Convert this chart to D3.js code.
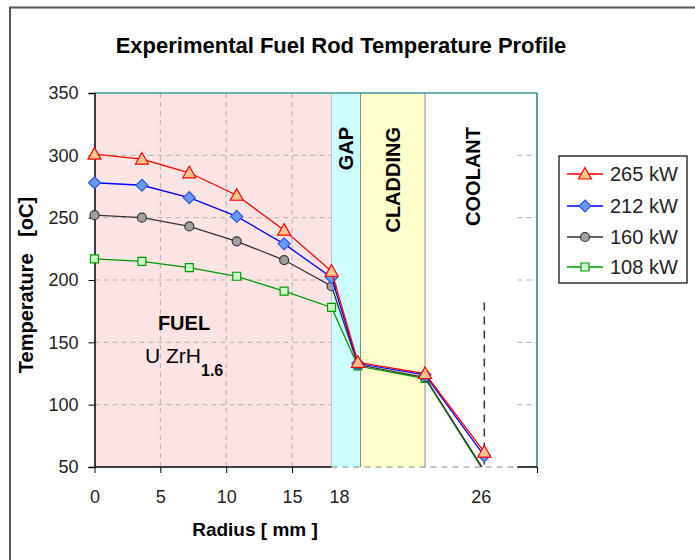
<!DOCTYPE html>
<html><head><meta charset="utf-8">
<script src="https://cdn.jsdelivr.net/npm/d3@7"></script>
<style>
body{margin:0;background:#fff;}
svg{font-family:Arial,"Liberation Sans",sans-serif;}
</style></head>
<body>
<svg id="c" width="695" height="560"></svg>
<script>
// ---- data ----
const radius = [0, 3.6, 7.2, 10.8, 14.4, 18, 20, 25.1, 29.6];
const s265 = [301, 297, 286, 268, 240, 207, 134, 125, 62];
const s212 = [278, 276, 266, 251, 229, 202, 133, 124, 59];
const s160 = [252, 250, 243, 231, 216, 195, 132, 122, 47];
const s108 = [217, 215, 210, 203, 191, 178, 131, 121, 46];
const seriesNames = ["265 kW", "212 kW", "160 kW", "108 kW"];
const xTicks = [0, 5, 10, 15];
const yTicks = [50, 100, 150, 200, 250, 300, 350];
const extraXLabels = [{v: 18, t: "18"}, {v: 29.6, t: "26"}];
const regions = [
  {name: "FUEL", x0: 0, x1: 18},
  {name: "GAP", x0: 18, x1: 20.2},
  {name: "CLADDING", x0: 20.2, x1: 25.1},
  {name: "COOLANT", x0: 25.1, x1: 32.1}
];
const coolantMarkY = 182;

const series = [
  {name: seriesNames[0], vals: s265, color: "#ff0000", fill: "#ffc58a", stroke: "#ff0000", sym: "tri"},
  {name: seriesNames[1], vals: s212, color: "#0000ff", fill: "#6699ff", stroke: "#3355dd", sym: "dia"},
  {name: seriesNames[2], vals: s160, color: "#333333", fill: "#a0a0a0", stroke: "#333333", sym: "cir"},
  {name: seriesNames[3], vals: s108, color: "#009900", fill: "#ccffcc", stroke: "#009900", sym: "sq"}
];

const svg = d3.select("#c");
const L = 94.5, R = 537, T = 93, B = 467;
const x = d3.scaleLinear().domain([0, 33.6]).range([L, R]);
const y = d3.scaleLinear().domain([50, 350]).range([B, T]);

// outer frame
svg.append("path").attr("d", `M10,600 L10,7.5 L700,7.5`).attr("fill","none").attr("stroke","#555").attr("stroke-width",2);

// title
svg.append("text").attr("x", 341).attr("y", 53).attr("text-anchor","middle")
  .attr("font-size", 22).attr("font-weight","bold").text("Experimental Fuel Rod Temperature Profile");

// fuel region
svg.append("rect").attr("x", x(regions[0].x0)).attr("y", T).attr("width", x(regions[0].x1)-x(regions[0].x0)).attr("height", B-T)
  .attr("fill","#fde4e4");

// gridlines
const grid = svg.append("g").attr("stroke","#b0b0b0").attr("stroke-dasharray","5,4").attr("stroke-width",1);
yTicks.filter(v=>v>50 && v<350).forEach(v=>{
  grid.append("line").attr("x1",L).attr("x2",R).attr("y1",y(v)).attr("y2",y(v));
});
xTicks.filter(v=>v>0).forEach(v=>{
  grid.append("line").attr("x1",x(v)).attr("x2",x(v)).attr("y1",T).attr("y2",B);
});

// fuel right border
svg.append("line").attr("x1", x(18)).attr("x2", x(18)).attr("y1",T).attr("y2",B).attr("stroke","#999");

// gap, cladding, coolant boxes
const boxFill = ["#ccffff", "#ffffcc", "#ffffff"];
regions.slice(1).forEach((r,i)=>{
  svg.append("rect").attr("x", x(r.x0)).attr("y", T).attr("width", x(r.x1)-x(r.x0)).attr("height", B-T)
    .attr("fill", boxFill[i]);
});
svg.append("line").attr("x1", x(20.2)).attr("x2", x(20.2)).attr("y1",T).attr("y2",B).attr("stroke","#888");
svg.append("line").attr("x1", x(25.1)).attr("x2", x(25.1)).attr("y1",T).attr("y2",B).attr("stroke","#888");

// axes lines
svg.append("line").attr("x1",L).attr("x2",R).attr("y1",T).attr("y2",T).attr("stroke","#3a9a9a").attr("stroke-width",1.5);
svg.append("line").attr("x1",R).attr("x2",R).attr("y1",T).attr("y2",B).attr("stroke","#2a7f7f").attr("stroke-width",1.5);
svg.append("line").attr("x1",L).attr("x2",x(18)).attr("y1",B).attr("y2",B).attr("stroke","#000").attr("stroke-width",1.5);
svg.append("line").attr("x1",x(32.1)).attr("x2",R).attr("y1",B).attr("y2",B).attr("stroke","#000").attr("stroke-width",1.5);
svg.append("line").attr("x1",x(18)).attr("x2",x(32.1)).attr("y1",B).attr("y2",B).attr("stroke","#888").attr("stroke-dasharray","6,5");

// y axis
const yAxis = d3.axisLeft(y).tickValues(yTicks).tickSize(6).tickPadding(10).tickFormat(d3.format("d"));
const gy = svg.append("g").attr("transform",`translate(${L},0)`).call(yAxis);
gy.select(".domain").attr("stroke","#000").attr("stroke-width",1.5);
gy.selectAll("text").attr("font-size",18).attr("fill","#222").attr("font-family","Arial, 'Liberation Sans', sans-serif");

// x axis
const xAxis = d3.axisBottom(x).tickValues(xTicks.concat([33.6])).tickSize(6).tickPadding(17)
  .tickFormat(d => xTicks.includes(d) ? d : "");
const gx = svg.append("g").attr("transform",`translate(0,${B})`).call(xAxis);
gx.select(".domain").remove();
gx.selectAll("text").attr("font-size",18).attr("fill","#222").attr("font-family","Arial, 'Liberation Sans', sans-serif");
extraXLabels.forEach((d,i)=>{
  svg.append("text").attr("x", x(d.v) + (i===0 ? 8 : -3)).attr("y", 503).attr("text-anchor","middle")
    .attr("font-size",18).attr("fill","#222").text(d.t);
});

// axis titles
svg.append("text").attr("x", 255).attr("y", 536).attr("text-anchor","middle").attr("font-size",19).attr("font-weight","bold").text("Radius [ mm ]");
svg.append("text").attr("transform","translate(33,285) rotate(-90)").attr("text-anchor","middle").attr("font-size",20).attr("font-weight","bold")
  .style("white-space","pre").text("Temperature   [oC]");

// region labels
svg.append("text").attr("x",184).attr("y",330).attr("text-anchor","middle").attr("font-size",20).attr("font-weight","bold").text("FUEL");
const ul = svg.append("text").attr("x",145).attr("y",363).attr("font-size",21);
ul.append("tspan").text("U ZrH");
ul.append("tspan").attr("font-size",16).attr("font-weight","bold").attr("dy",13).text("1.6");
[["GAP",353],["CLADDING",400],["COOLANT",480]].forEach(([t,xx])=>{
  svg.append("text").attr("transform",`translate(${xx},127) rotate(-90)`).attr("text-anchor","end")
    .attr("font-size",20).attr("font-weight","bold").text(t);
});

// coolant dashed marker line
svg.append("line").attr("x1",x(radius[radius.length-1])).attr("x2",x(radius[radius.length-1]))
  .attr("y1",y(coolantMarkY)).attr("y2",B).attr("stroke","#333").attr("stroke-width",1.5).attr("stroke-dasharray","8,6");

// clip
svg.append("clipPath").attr("id","pc").append("rect").attr("x",L-8).attr("y",T-8).attr("width",R-L+16).attr("height",B-T+8);

function symPath(sym){
  if(sym==="tri") return "M0,-6.5 L6.5,5 L-6.5,5 Z";
  if(sym==="dia") return "M0,-6 L6,0 L0,6 L-6,0 Z";
  if(sym==="cir") return "M4.5,0 A4.5,4.5 0 1,1 -4.5,0 A4.5,4.5 0 1,1 4.5,0 Z";
  return "M-4,-4 L4,-4 L4,4 L-4,4 Z";
}

const plot = svg.append("g").attr("clip-path","url(#pc)");
const lineGen = d3.line().x((d,i)=>x(radius[i])).y(d=>y(d));
const lineClip = svg.append("clipPath").attr("id","lc").append("rect").attr("x",L).attr("y",T).attr("width",R-L).attr("height",B-T);
// draw in reverse so red on top
series.slice().reverse().forEach(s=>{
  plot.append("path").datum(s.vals).attr("d",lineGen).attr("fill","none").attr("stroke",s.color).attr("stroke-width",1.3)
    .attr("clip-path","url(#lc)");
  plot.selectAll(null).data(s.vals.map((v,i)=>({v,i})).filter(d=>d.v>=50)).enter().append("path")
    .attr("d",symPath(s.sym)).attr("transform",d=>`translate(${x(radius[d.i])},${y(d.v)})`)
    .attr("fill",s.fill).attr("stroke",s.stroke).attr("stroke-width",1.2);
});

// legend
const lg = svg.append("g");
lg.append("rect").attr("x",559).attr("y",156).attr("width",128).attr("height",127).attr("fill","#fff").attr("stroke","#000").attr("stroke-width",1.2);
const ly = [174, 206, 237, 267];
series.forEach((s,i)=>{
  lg.append("line").attr("x1",567).attr("x2",603).attr("y1",ly[i]).attr("y2",ly[i]).attr("stroke",s.color).attr("stroke-width",1.3);
  lg.append("path").attr("d",symPath(s.sym)).attr("transform",`translate(585,${ly[i]})`).attr("fill",s.fill).attr("stroke",s.stroke).attr("stroke-width",1.2);
  lg.append("text").attr("x",610).attr("y",ly[i]+7).attr("font-size",20).attr("fill","#222").text(s.name);
});
</script>
</body></html>
